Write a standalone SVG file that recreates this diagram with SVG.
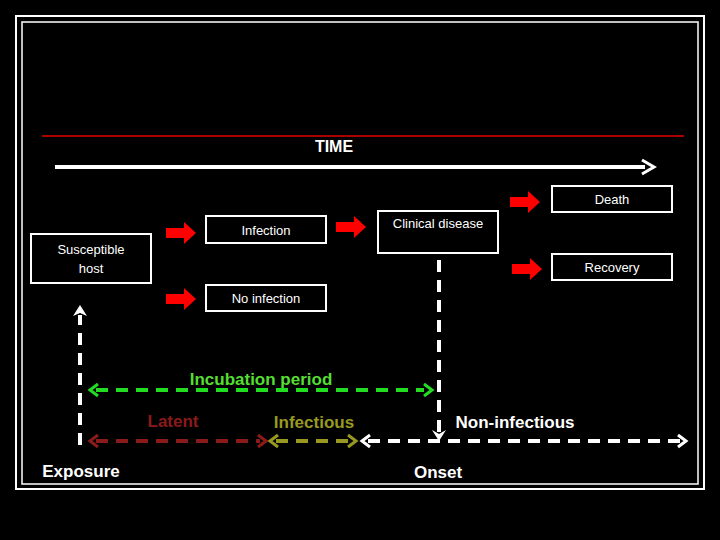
<svg xmlns="http://www.w3.org/2000/svg" width="720" height="540" viewBox="0 0 720 540">
<defs>
<style>
text{font-family:"Liberation Sans",Arial,sans-serif;fill:#fff;text-anchor:middle}
.box{fill:#000;stroke:#fff;stroke-width:2}
.bt{font-size:13px}
.lb{font-size:17px;font-weight:bold}
.d{fill:none;stroke-width:4;stroke-dasharray:12,8}
.ra{fill:#f00}
</style>
<polygon id="ra" points="0,-5 18,-5 18,-11 30,0 18,11 18,5 0,5"/>
</defs>
<rect width="720" height="540" fill="#000"/>
<rect x="16" y="16" width="688" height="473" fill="none" stroke="#fff" stroke-width="2"/>
<rect x="22" y="22" width="676" height="462" fill="none" stroke="#fff" stroke-width="1.5"/>
<line x1="42" y1="136" x2="684" y2="136" stroke="#a00" stroke-width="2"/>
<text x="334" y="152" style="font-size:16px;font-weight:bold">TIME</text>
<g id="time-arrow"><line x1="55" y1="167" x2="645" y2="167" stroke="#fff" stroke-width="4"/><polyline points="642,160 654,167 642,174" fill="none" stroke="#fff" stroke-width="3"/></g>
<g id="death"><rect class="box" x="552" y="186" width="120" height="26"/><text class="bt" x="612" y="204">Death</text></g>
<g id="infection"><rect class="box" x="206" y="216" width="120" height="27"/><text class="bt" x="266" y="235">Infection</text></g>
<g id="clinical"><rect class="box" x="378" y="211" width="120" height="42"/><text class="bt" x="438" y="228">Clinical disease</text></g>
<g id="susceptible"><rect class="box" x="31" y="234" width="120" height="49"/><text class="bt" x="91" y="254">Susceptible</text><text class="bt" x="91" y="273">host</text></g>
<g id="recovery"><rect class="box" x="552" y="254" width="120" height="26"/><text class="bt" x="612" y="272">Recovery</text></g>
<g id="noinfection"><rect class="box" x="206" y="285" width="120" height="26"/><text class="bt" x="266" y="303">No infection</text></g>
<g id="connectors">
<use href="#ra" class="ra" x="166" y="233"/>
<use href="#ra" class="ra" x="336" y="227"/>
<use href="#ra" class="ra" x="510" y="202"/>
<use href="#ra" class="ra" x="512" y="269"/>
<use href="#ra" class="ra" x="166" y="299"/>
<line class="d" x1="80" y1="445" x2="80" y2="315" stroke="#fff"/>
<polygon points="73,316 80,305 87,316 80,313" fill="#fff"/>
<line class="d" x1="439" y1="260" x2="439" y2="432" stroke="#fff"/>
<polygon points="432,430 439,441 446,430 439,434" fill="#fff"/>
<line class="d" x1="96" y1="390" x2="424" y2="390" stroke="#22dd22"/>
<polyline points="98,384 90,390 98,396" fill="none" stroke="#22dd22" stroke-width="3"/>
<polyline points="424,384 432,390 424,396" fill="none" stroke="#22dd22" stroke-width="3"/>
<line class="d" x1="96" y1="441" x2="260" y2="441" stroke="#8b1a1a"/>
<polyline points="98,435 90,441 98,447" fill="none" stroke="#8b1a1a" stroke-width="3"/>
<polyline points="258,435 266,441 258,447" fill="none" stroke="#8b1a1a" stroke-width="3"/>
<line class="d" x1="276" y1="441" x2="350" y2="441" stroke="#999922"/>
<polyline points="278,435 270,441 278,447" fill="none" stroke="#999922" stroke-width="3"/>
<polyline points="348,435 356,441 348,447" fill="none" stroke="#999922" stroke-width="3"/>
<line class="d" x1="368" y1="441" x2="680" y2="441" stroke="#fff"/>
<polyline points="370,435 362,441 370,447" fill="none" stroke="#fff" stroke-width="3"/>
<polyline points="678,435 686,441 678,447" fill="none" stroke="#fff" stroke-width="3"/>
</g>
<text class="lb" x="261" y="385" style="fill:#55dd33">Incubation period</text>
<text class="lb" x="173" y="427" style="fill:#8b1a1a">Latent</text>
<text class="lb" x="314" y="428" style="fill:#999922">Infectious</text>
<text class="lb" x="515" y="428">Non-infectious</text>
<text class="lb" x="81" y="477">Exposure</text>
<text class="lb" x="438" y="478">Onset</text>
</svg>
